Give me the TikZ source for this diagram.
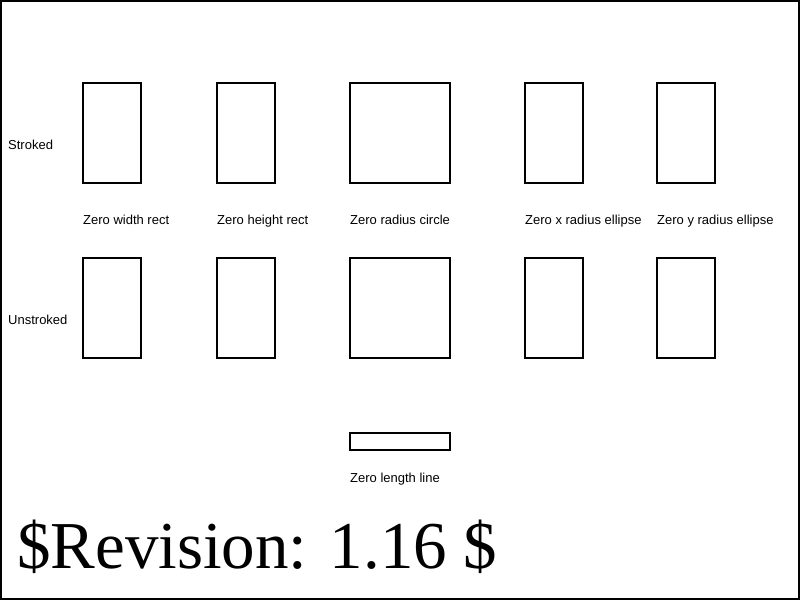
\documentclass[tikz,border=0pt]{standalone}
\usepackage{fontspec}
\setmainfont{Liberation Sans}
\newfontfamily\revfont{Liberation Serif}

\begin{document}
\begin{tikzpicture}[x=1pt,y=-1pt,
  box/.style={draw,line width=1.2pt},
  lbl/.style={anchor=base west,inner sep=0pt,font=\fontsize{13}{15}\selectfont}]

\useasboundingbox (0,0) rectangle (800,600);
\draw [line width=1.2pt] (1,1) rectangle (799,599) ;

\node [lbl] (stroked) at (8,149) {Stroked};
\node [lbl] (unstroked) at (8,324) {Unstroked};

\draw [box] (83,83) rectangle (141,183) ;
\draw [box] (217,83) rectangle (275,183) ;
\draw [box] (350,83) rectangle (450,183) ;
\draw [box] (525,83) rectangle (583,183) ;
\draw [box] (657,83) rectangle (715,183) ;

\node [lbl] (zwidth) at (83,224) {Zero width rect};
\node [lbl] (zheight) at (217,224) {Zero height rect};
\node [lbl] (zcircle) at (350,224) {Zero radius circle};
\node [lbl] (zxell) at (525,224) {Zero x radius ellipse};
\node [lbl] (zyell) at (657,224) {Zero y radius ellipse};

\draw [box] (83,258) rectangle (141,358) ;
\draw [box] (217,258) rectangle (275,358) ;
\draw [box] (350,258) rectangle (450,358) ;
\draw [box] (525,258) rectangle (583,358) ;
\draw [box] (657,258) rectangle (715,358) ;

\draw [box] (350,433) rectangle (450,450) ;
\node [lbl] (zline) at (350,482) {Zero length line};

\node [anchor=base west,inner sep=0pt,font=\revfont\fontsize{67}{80}\selectfont] (revision) at (17,568) {\$Revision: 1.16 \$};

\end{tikzpicture}
\end{document}
